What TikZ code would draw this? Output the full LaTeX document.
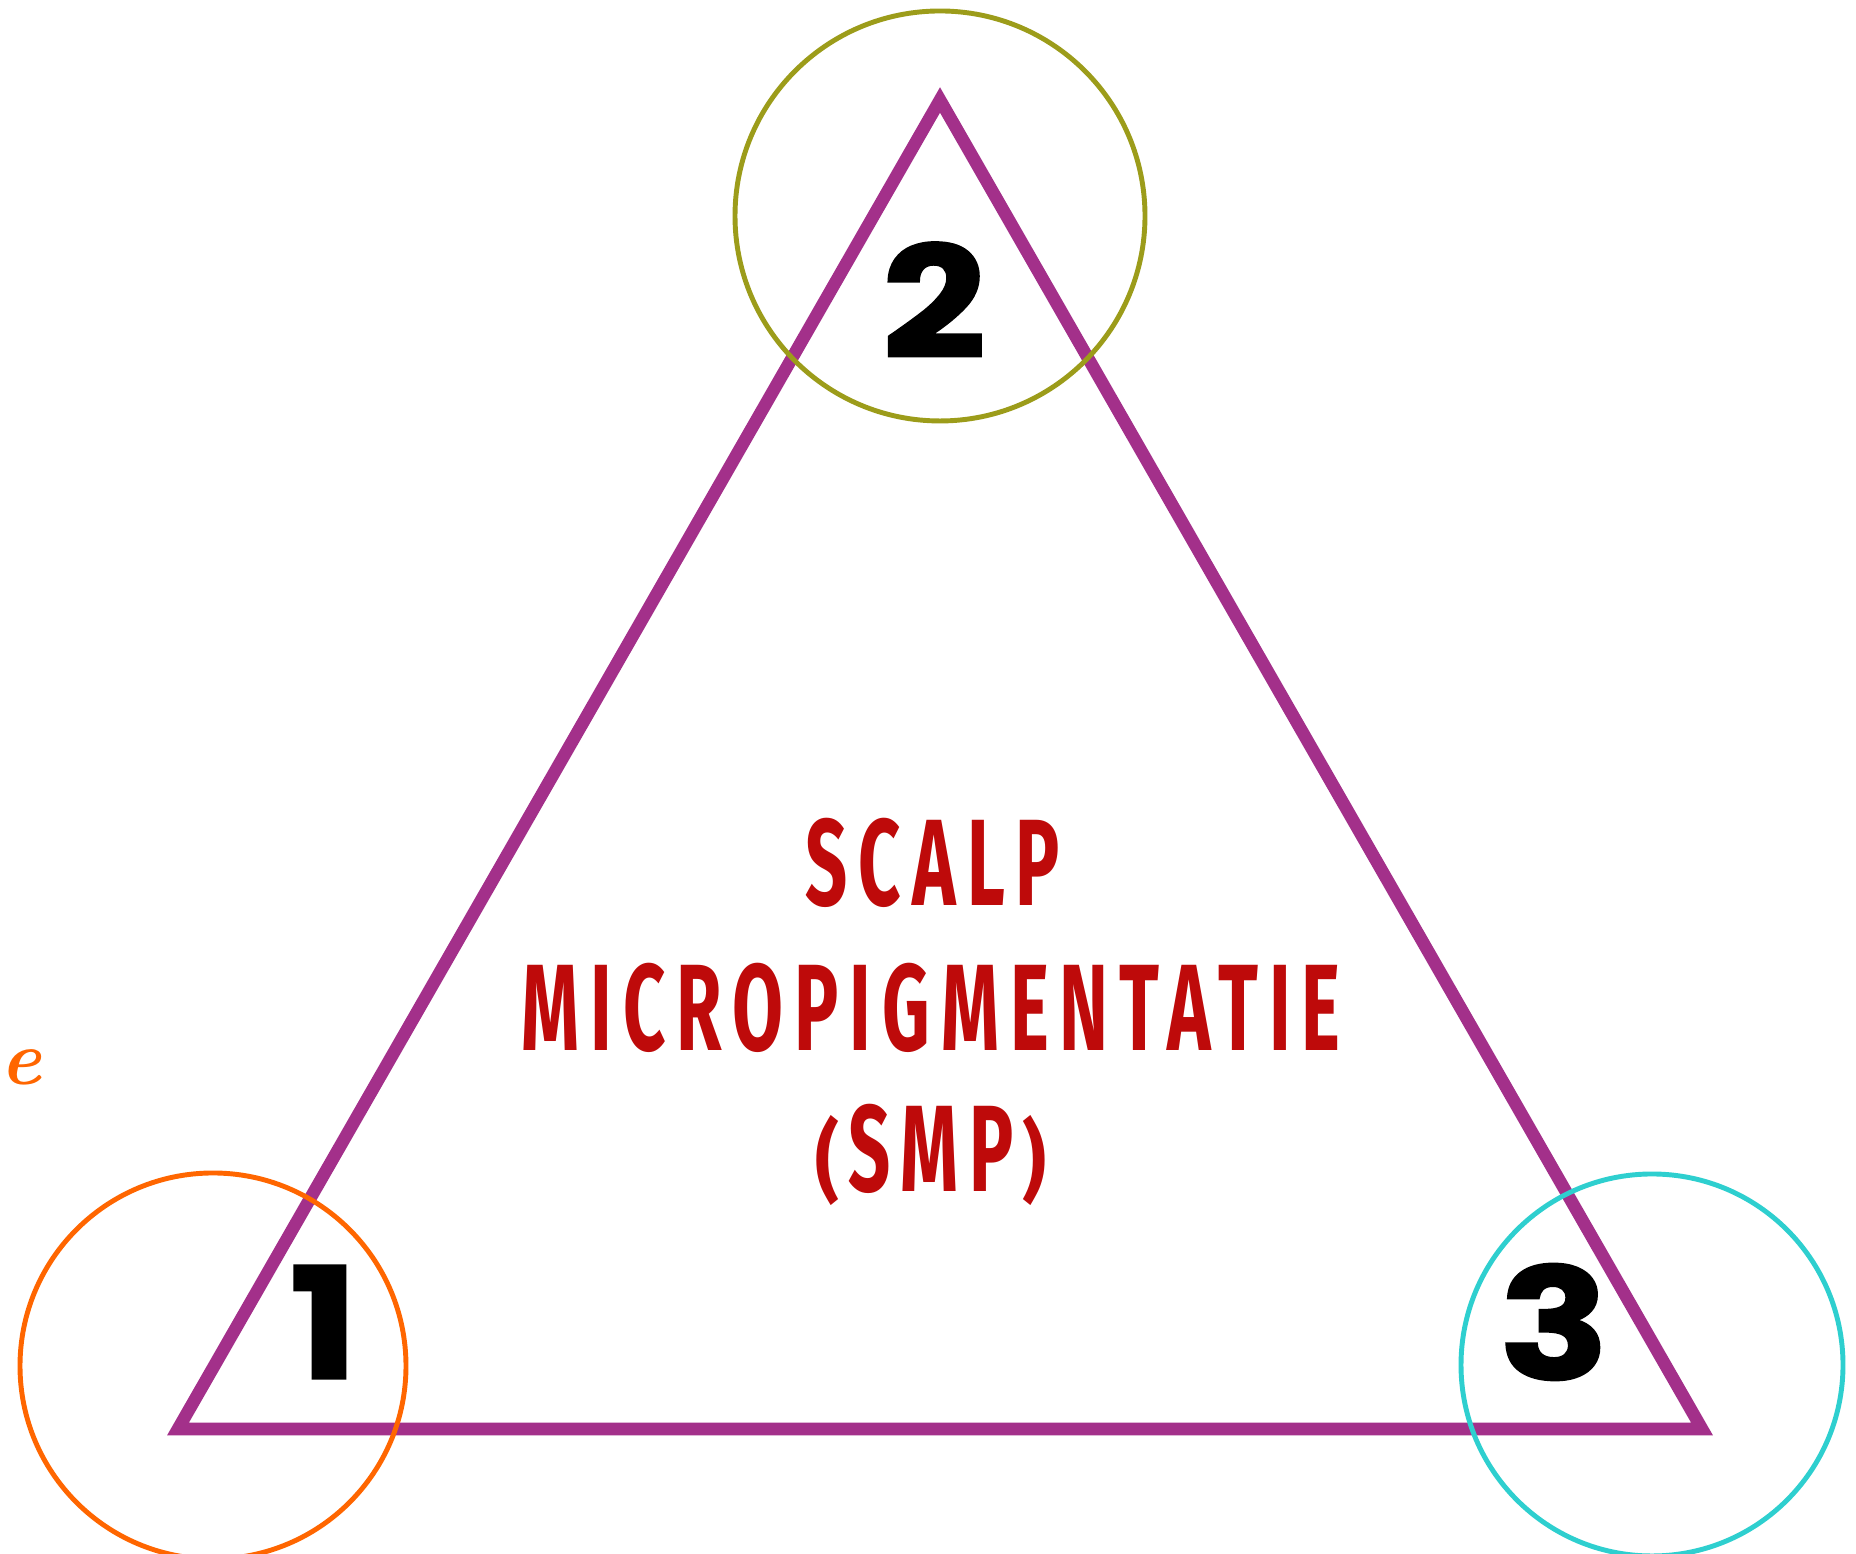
\documentclass[tikz,border=0pt]{standalone}
\usepackage{fontspec}
\usepackage{tikz}
\newfontfamily\smpfont[FakeStretch=0.6,LetterSpace=9]{Fira Sans}
\newfontfamily\numfont[FakeStretch=1.18,FakeBold=1.5]{Poppins}
\definecolor{smppurple}{HTML}{A3308A}
\definecolor{smpred}{HTML}{BE0A0A}
\definecolor{ringolive}{HTML}{9C9C1A}
\definecolor{ringorange}{HTML}{FF6600}
\definecolor{ringcyan}{HTML}{2ECFCF}
\newcommand{\sqparen}[1]{\scalebox{1}[0.72]{#1}}

\begin{document}
\begin{tikzpicture}
	\tikzstyle{ring}=[line width=1.4pt]
	\tikzstyle{number}=[font=\numfont\bfseries\fontsize{44}{44}\selectfont,text=black]
	\tikzstyle{title}=[font=\smpfont\bfseries\fontsize{35}{35}\selectfont,text=smpred]
	\clip (0,0) rectangle (18.56,15.54);
	\fill[white] (0,0) rectangle (18.56,15.54);
	% triangle
	\coordinate (t1) at (1.78,1.25);
	\coordinate (t2) at (9.40,14.54);
	\coordinate (t3) at (17.02,1.25);
	\draw[smppurple,line width=3.6pt,miter limit=4] (t1) -- (t2) -- (t3) -- cycle;
	% rings
	\draw[ring,ringorange] (2.13,1.88) circle (1.93);
	\draw[ring,ringolive] (9.40,13.38) circle (2.05);
	\draw[ring,ringcyan] (16.52,1.89) circle (1.91);
	% numbers
	\node[number](n1) at (3.24,2.32) {1};
	\node[number](n2) at (9.34,12.54) {2};
	\node[number](n3) at (15.54,2.32) {3};
	% title
	\node[title](l1) at (9.33,6.91) {SCALP};
	\node[title](l2) at (9.31,5.46) {MICROPIGMENTATIE};
	\node[title](l3) at (9.31,3.99) {\sqparen{(}\hspace{2.5pt}SMP\hspace{2.5pt}\sqparen{)}};
	\node[text=ringorange,font=\bfseries\itshape\fontsize{22}{22}\selectfont](e) at (0.21,4.87) {e};
\end{tikzpicture}
\end{document}
